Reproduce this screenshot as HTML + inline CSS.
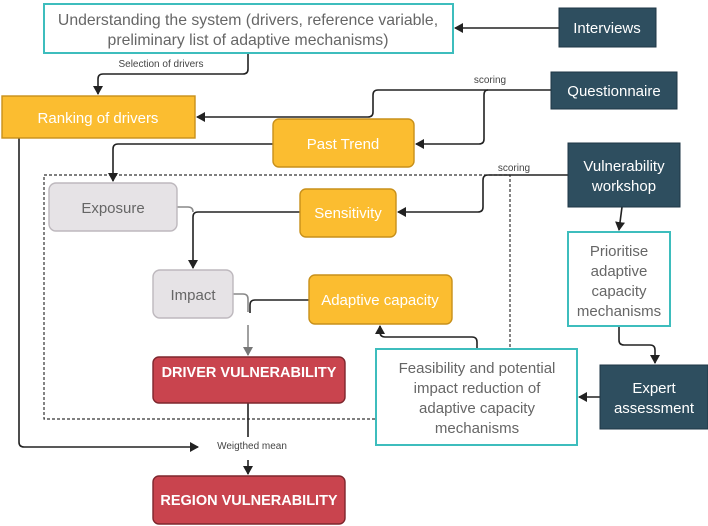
<!DOCTYPE html>
<html><head><meta charset="utf-8"><style>
html,body{margin:0;padding:0;background:#fff;}
svg{display:block;}
text{font-family:"Liberation Sans",sans-serif;}
</style></head><body>
<svg width="708" height="526" viewBox="0 0 708 526" xmlns="http://www.w3.org/2000/svg">
<defs>
<marker id="a" markerWidth="10" markerHeight="10" refX="8" refY="5" orient="auto" markerUnits="userSpaceOnUse"><path d="M0,0 L9,5 L0,10 z" fill="#222"/></marker>
<marker id="g" markerWidth="10" markerHeight="10" refX="8" refY="5" orient="auto" markerUnits="userSpaceOnUse"><path d="M0,0 L9,5 L0,10 z" fill="#777"/></marker>
</defs>
<rect x="44" y="175" width="466" height="244" fill="none" stroke="#333" stroke-dasharray="3,2" stroke-width="1.2"/>

<g fill="none" stroke="#222" stroke-width="1.6">
<path d="M559 28 H455" marker-end="url(#a)"/>
<path d="M248 53 V69 Q248 74 243 74 H103 Q98 74 98 79 V94" marker-end="url(#a)"/>
<path d="M551 90 H378 Q373 90 373 95 V112 Q373 117 368 117 H197" marker-end="url(#a)"/>
<path d="M488 90 Q484 90 484 95 V139 Q484 144 479 144 H416" marker-end="url(#a)"/>
<path d="M273 144 H118 Q113 144 113 149 V181" marker-end="url(#a)"/>
<path d="M19 138 V442 Q19 447 24 447 H198" marker-end="url(#a)"/>
<path d="M568 175 H488 Q483 175 483 180 V207 Q483 212 478 212 H398" marker-end="url(#a)"/>
<path d="M300 212 H198 Q193 212 193 217 V268" marker-end="url(#a)"/>
<path d="M622 207 L619 230" marker-end="url(#a)"/>
<path d="M309 300 H255 Q250 300 250 305 V313"/>
<path d="M477 349 V342 Q477 337 472 337 H385 Q380 337 380 332 V326" marker-end="url(#a)"/>
<path d="M619 326 V340 Q619 345 624 345 H650 Q655 345 655 350 V363" marker-end="url(#a)"/>
<path d="M600 397 H579" marker-end="url(#a)"/>
<path d="M248 403 V437"/>
<path d="M248 460 V474" marker-end="url(#a)"/>
</g>
<g fill="none" stroke="#888" stroke-width="1.6">
<path d="M177 207 H188 Q193 207 193 212"/>
<path d="M233 294 H243 Q248 294 248 299 V312"/>
<path d="M248 325 V345"/>
<path d="M248 345 V355" marker-end="url(#g)"/>
</g>

<g font-size="10" fill="#444">
<text x="161" y="67" text-anchor="middle">Selection of drivers</text>
<text x="490" y="83" text-anchor="middle">scoring</text>
<text x="514" y="171" text-anchor="middle">scoring</text>
<text x="252" y="449" text-anchor="middle">Weigthed mean</text>
</g>

<g fill="#fff" stroke="#3dbdbd" stroke-width="2">
<rect x="44" y="4" width="409" height="49"/>
<rect x="568" y="232" width="102" height="94"/>
<rect x="376" y="349" width="201" height="96"/>
</g>
<g font-size="15" fill="#666" text-anchor="middle">
<text x="248" y="25" font-size="15.8">Understanding the system (drivers, reference variable,</text>
<text x="248" y="45" font-size="15.8">preliminary list of adaptive mechanisms)</text>
<text x="619" y="256">Prioritise</text>
<text x="619" y="276">adaptive</text>
<text x="619" y="296">capacity</text>
<text x="619" y="316">mechanisms</text>
<text x="477" y="373">Feasibility and potential</text>
<text x="477" y="393">impact reduction of</text>
<text x="477" y="413">adaptive capacity</text>
<text x="477" y="433">mechanisms</text>
</g>

<g fill="#2e4e5f" stroke="#1e3644" stroke-width="1">
<rect x="559" y="8" width="97" height="39"/>
<rect x="551" y="72" width="126" height="37"/>
<rect x="568" y="143" width="112" height="64"/>
<rect x="600" y="365" width="108" height="64"/>
</g>
<g font-size="15" fill="#fff" text-anchor="middle">
<text x="607" y="33">Interviews</text>
<text x="614" y="96">Questionnaire</text>
<text x="624" y="171">Vulnerability</text>
<text x="624" y="191">workshop</text>
<text x="654" y="393">Expert</text>
<text x="654" y="413">assessment</text>
</g>

<g fill="#fbbd30" stroke="#c8901a" stroke-width="1.4">
<rect x="2" y="96" width="193" height="42"/>
<rect x="273" y="119" width="141" height="48" rx="6"/>
<rect x="300" y="189" width="96" height="48" rx="6"/>
<rect x="309" y="275" width="143" height="49" rx="6"/>
</g>
<g font-size="15" fill="#fff" text-anchor="middle">
<text x="98" y="123">Ranking of drivers</text>
<text x="343" y="149">Past Trend</text>
<text x="348" y="218">Sensitivity</text>
<text x="380" y="305">Adaptive capacity</text>
</g>

<g fill="#e6e3e6" stroke="#bdb8bd" stroke-width="1.4">
<rect x="49" y="183" width="128" height="48" rx="7"/>
<rect x="153" y="270" width="80" height="48" rx="7"/>
</g>
<g font-size="15" fill="#666" text-anchor="middle">
<text x="113" y="213">Exposure</text>
<text x="193" y="300">Impact</text>
</g>

<g fill="#c9444e" stroke="#7e262d" stroke-width="1.4">
<rect x="153" y="357" width="192" height="46" rx="6"/>
<rect x="153" y="476" width="192" height="48" rx="6"/>
</g>
<g font-size="14.5" font-weight="bold" fill="#fff" text-anchor="middle">
<text x="249" y="377">DRIVER VULNERABILITY</text>
<text x="249" y="505">REGION VULNERABILITY</text>
</g>
</svg>
</body></html>
